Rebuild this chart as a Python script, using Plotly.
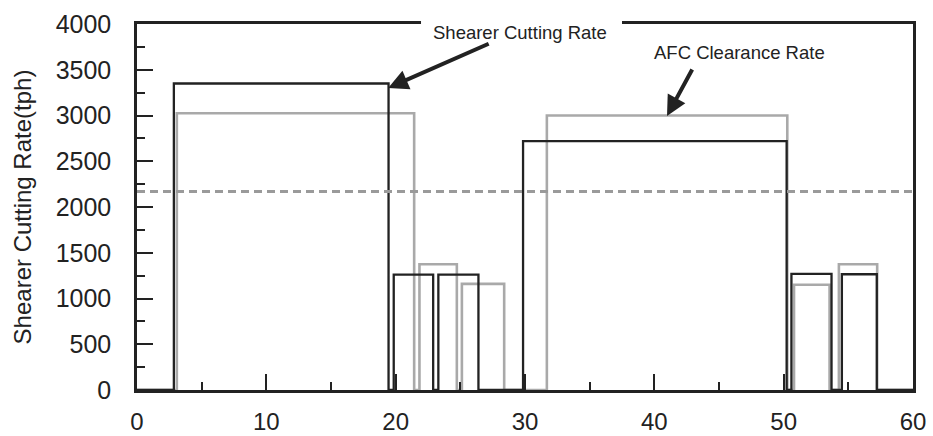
import plotly.graph_objects as go

# ---- data ----
# Shearer Cutting Rate pulses (black): start time, end time, rate (tph)
shearer_start = [2.85, 19.85, 23.3, 29.85, 50.6, 54.5]
shearer_end = [19.45, 22.9, 26.4, 50.23, 53.7, 57.2]
shearer_rate = [3350, 1260, 1260, 2720, 1270, 1265]

# AFC Clearance Rate pulses (gray)
afc_start = [3.08, 21.84, 25.12, 31.69, 50.8, 54.27]
afc_end = [21.43, 24.73, 28.39, 50.28, 53.55, 57.23]
afc_rate = [3025, 1375, 1160, 3000, 1150, 1375]

threshold_rate = 2170
x_range = [0, 60]
y_range = [0, 4000]
x_ticks = [0, 10, 20, 30, 40, 50, 60]
y_ticks = [0, 500, 1000, 1500, 2000, 2500, 3000, 3500, 4000]


def pulses_to_steps(starts, ends, vals):
    xs, ys = [x_range[0]], [0]
    for s, e, v in zip(starts, ends, vals):
        xs += [s, s, e, e]
        ys += [0, v, v, 0]
    xs.append(x_range[1])
    ys.append(0)
    return xs, ys


FONT = "Liberation Sans, Arial, sans-serif"
INK = "#222222"
GRAY = "#a9a9a9"

fig = go.Figure()

ax_, ay_ = pulses_to_steps(afc_start, afc_end, afc_rate)
fig.add_trace(go.Scatter(x=ax_, y=ay_, mode="lines", name="AFC Clearance Rate",
                         line=dict(color=GRAY, width=2.6), showlegend=False))

sx, sy = pulses_to_steps(shearer_start, shearer_end, shearer_rate)
fig.add_trace(go.Scatter(x=sx, y=sy, mode="lines", name="Shearer Cutting Rate",
                         line=dict(color=INK, width=2.3), showlegend=False))

fig.add_trace(go.Scatter(x=x_range, y=[threshold_rate, threshold_rate], mode="lines",
                         line=dict(color="#9a9a9a", width=3, dash="8px,5px"),
                         showlegend=False))

axis_common = dict(
    showline=True, linecolor=INK, linewidth=2.5, mirror=True,
    showgrid=False, zeroline=False, automargin=False,
    ticks="inside", ticklen=16, tickwidth=2, tickcolor=INK,
)

fig.update_xaxes(range=x_range, tickvals=x_ticks, ticklabelstandoff=8,
                 tickfont=dict(family=FONT, size=24, color=INK),
                 minor=dict(ticks="inside", ticklen=8, tickwidth=2, tickcolor=INK, dtick=5),
                 **axis_common)
fig.update_yaxes(range=y_range, tickvals=y_ticks, ticklabelstandoff=18,
                 tickfont=dict(family=FONT, size=25, color=INK),
                 minor=dict(ticks="inside", ticklen=8, tickwidth=2, tickcolor=INK, dtick=250),
                 title=dict(text="Shearer Cutting Rate(tph)", standoff=18,
                            font=dict(family=FONT, size=24, color=INK)),
                 **axis_common)

# white patch that interrupts the top frame behind the label
fig.add_shape(type="rect", xref="paper", yref="paper", x0=0.366, x1=0.625, y0=0.97, y1=1.03,
              fillcolor="white", line=dict(width=0), layer="above")

# labels
fig.add_annotation(text="Shearer Cutting Rate", xref="paper", yref="paper", x=0.494, y=0.978,
                   xanchor="center", yanchor="middle", showarrow=False,
                   font=dict(family=FONT, size=18.5, color=INK))
fig.add_annotation(text="AFC Clearance Rate", xref="paper", yref="paper", x=0.776, y=0.923,
                   xanchor="center", yanchor="middle", showarrow=False,
                   font=dict(family=FONT, size=18.5, color=INK))
# arrows
fig.add_annotation(text="", x=19.42, y=3300, ax=102, ay=-45, showarrow=True,
                   arrowhead=2, arrowsize=1, arrowwidth=4, arrowcolor=INK)
fig.add_annotation(text="", x=40.98, y=2995, ax=26, ay=-48, showarrow=True,
                   arrowhead=2, arrowsize=1, arrowwidth=4, arrowcolor=INK)

fig.update_layout(
    width=933, height=436,
    margin=dict(l=137, r=20, t=24, b=46),
    paper_bgcolor="white", plot_bgcolor="white",
    showlegend=False,
)

fig.write_html("out.html")
